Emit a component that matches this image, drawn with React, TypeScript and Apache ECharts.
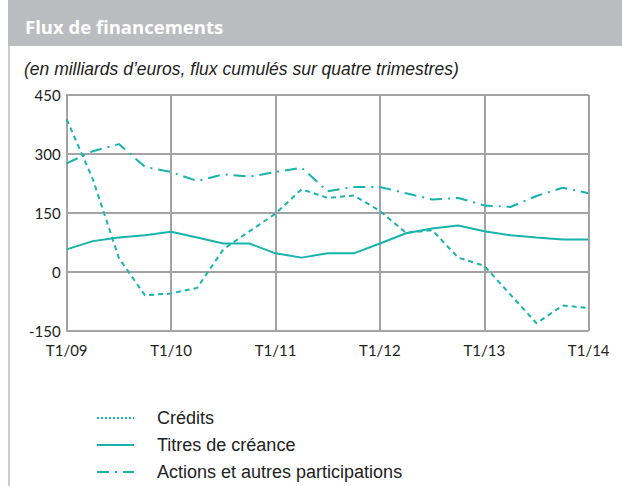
import React, { useEffect, useRef } from "react";
import * as echarts from "echarts";

const categories = [
  "T1/09", "T2/09", "T3/09", "T4/09",
  "T1/10", "T2/10", "T3/10", "T4/10",
  "T1/11", "T2/11", "T3/11", "T4/11",
  "T1/12", "T2/12", "T3/12", "T4/12",
  "T1/13", "T2/13", "T3/13", "T4/13",
  "T1/14",
];
const credits = [388, 236, 35, -60, -55, -41, 57, 103, 148, 210, 188, 194, 155, 99, 106, 36, 15, -58, -131, -86, -92];
const titres = [57, 78, 87, 93, 102, 87, 72, 72, 47, 36, 47, 47, 72, 98, 110, 118, 103, 93, 87, 82, 82];
const actions = [276, 307, 325, 267, 254, 231, 248, 242, 254, 265, 205, 216, 216, 200, 184, 188, 169, 165, 193, 214, 200];
const yTicks = [-150, 0, 150, 300, 450];
const seriesNames = ["Crédits", "Titres de créance", "Actions et autres participations"];

const TEAL = "#17b3ad";
const GRID = "#a3a3a3";

export default function App() {
  const ref = useRef<HTMLDivElement>(null);
  useEffect(() => {
    if (!ref.current) return;
    const chart = echarts.init(ref.current, null, { renderer: "svg" });
    const labelFont = "Lato, 'DejaVu Sans', sans-serif";
    const legendFont = "18px 'Liberation Sans', Arial, sans-serif";
    const legendRows = [418, 445, 472];
    const legendDash: any[] = [[2, 2], "solid", [12, 6, 2, 6]];
    const legendGraphics: any[] = [];
    seriesNames.forEach((name, i) => {
      legendGraphics.push({
        type: "line",
        shape: { x1: 97, y1: legendRows[i], x2: 134, y2: legendRows[i] },
        style: { stroke: TEAL, lineWidth: 2, lineDash: legendDash[i] === "solid" ? null : legendDash[i] },
        silent: true,
      });
      legendGraphics.push({
        type: "text", x: 157, y: legendRows[i],
        style: { text: name, fill: "#222222", font: legendFont, verticalAlign: "middle" },
        silent: true,
      });
    });
    chart.setOption({
      animation: false,
      backgroundColor: "#ffffff",
      graphic: [
        { type: "rect", shape: { x: 8, y: 0, width: 614, height: 46 }, style: { fill: "#bbbcc0" }, silent: true },
        { type: "rect", shape: { x: 8, y: 46, width: 2, height: 440 }, style: { fill: "#c9ccd6" }, silent: true },
        {
          type: "text", x: 25, y: 26,
          style: { text: "Flux de financements", fill: "#ffffff", font: "bold 18.5px 'Open Sans', 'Liberation Sans', sans-serif", verticalAlign: "middle" },
        },
        {
          type: "text", x: 24, y: 69,
          style: { text: "(en milliards d\u2019euros, flux cumulés sur quatre trimestres)", fill: "#222222", font: "italic 17.5px 'Liberation Sans', Arial, sans-serif", verticalAlign: "middle" },
        },
        ...legendGraphics,
      ],
      grid: { left: 66.7, top: 95, right: 33.3, bottom: 155.3, show: false },
      xAxis: {
        type: "category",
        data: categories,
        boundaryGap: false,
        axisLine: { show: true, lineStyle: { color: GRID, width: 2 } },
        axisTick: { show: false },
        axisLabel: { interval: 3, color: "#222222", fontSize: 15, fontFamily: labelFont, margin: 12 },
        splitLine: { show: true, interval: 3, lineStyle: { color: GRID, width: 2 } },
      },
      yAxis: {
        type: "value",
        min: yTicks[0],
        max: yTicks[yTicks.length - 1],
        interval: 150,
        axisLine: { show: true, lineStyle: { color: GRID, width: 2 } },
        axisTick: { show: false },
        axisLabel: { color: "#222222", fontSize: 15, fontFamily: labelFont, margin: 6 },
        splitLine: { show: true, lineStyle: { color: GRID, width: 2 } },
      },
      series: [
        {
          name: seriesNames[0], type: "line", data: credits, symbol: "none",
          lineStyle: { color: TEAL, width: 2, type: [5, 4] }, itemStyle: { color: TEAL }, z: 3,
        },
        {
          name: seriesNames[1], type: "line", data: titres, symbol: "none",
          lineStyle: { color: TEAL, width: 2, type: "solid" }, itemStyle: { color: TEAL }, z: 3,
        },
        {
          name: seriesNames[2], type: "line", data: actions, symbol: "none",
          lineStyle: { color: TEAL, width: 2, type: [12, 6, 2, 6] }, itemStyle: { color: TEAL }, z: 3,
        },
        {
          type: "line", data: [], markLine: {
            silent: true, symbol: "none", label: { show: false },
            lineStyle: { color: GRID, width: 2, type: "solid" },
            data: [[{ xAxis: categories[20], yAxis: yTicks[0] }, { xAxis: categories[20], yAxis: yTicks[4] }]],
          },
        },
      ],
    });
    return () => chart.dispose();
  }, []);
  return <div ref={ref} style={{ width: 622, height: 486, position: "absolute", left: 0, top: 0 }} />;
}
